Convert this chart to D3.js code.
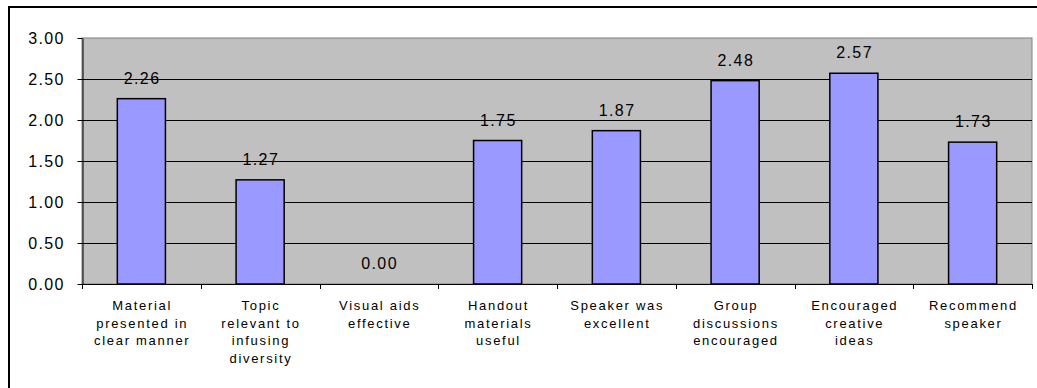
<!DOCTYPE html>
<html>
<head>
<meta charset="utf-8">
<script src="https://cdn.jsdelivr.net/npm/d3@7"></script>
<style>
  html, body { margin: 0; padding: 0; background: #fff; }
  svg { display: block; }
  text { font-family: "Liberation Sans", Arial, sans-serif; fill: #000; }
</style>
</head>
<body>
<svg id="chart" width="1037" height="388"></svg>
<script>
// Survey item labels (each entry is the wrapped lines of one category)
const categories = [
  ["Material", "presented in", "clear manner"],
  ["Topic", "relevant to", "infusing", "diversity"],
  ["Visual aids", "effective"],
  ["Handout", "materials", "useful"],
  ["Speaker was", "excellent"],
  ["Group", "discussions", "encouraged"],
  ["Encouraged", "creative", "ideas"],
  ["Recommend", "speaker"]
];
// Mean rating per item
const values = [2.26, 1.27, 0.00, 1.75, 1.87, 2.48, 2.57, 1.73];
// Y axis ticks
const yTicks = [0, 0.5, 1.0, 1.5, 2.0, 2.5, 3.0];

const svg = d3.select("#chart");
const W = 1037, H = 388;

// Outer chart frame
svg.append("rect")
  .attr("x", 9).attr("y", 7)
  .attr("width", W + 10).attr("height", H + 10)
  .attr("fill", "#fff").attr("stroke", "#000").attr("stroke-width", 2);

const plot = { left: 82, right: 1032, top: 38, bottom: 284 };

const x = d3.scaleBand()
  .domain(d3.range(categories.length))
  .range([plot.left, plot.right])
  .paddingInner(0.595).paddingOuter(0.2975);

const y = d3.scaleLinear().domain([0, 3]).range([plot.bottom, plot.top]);

const numSpacing = 1.4;
const catSpacing = 1.7;

// Plot area background
svg.append("rect")
  .attr("x", plot.left).attr("y", plot.top)
  .attr("width", plot.right - plot.left).attr("height", plot.bottom - plot.top)
  .attr("fill", "#C0C0C0").attr("stroke", "#808080").attr("stroke-width", 1);

// Horizontal gridlines
svg.append("g")
  .selectAll("line")
  .data(yTicks.filter(t => t > 0 && t < 3))
  .join("line")
  .attr("x1", plot.left).attr("x2", plot.right)
  .attr("y1", d => Math.round(y(d)) + 0.5).attr("y2", d => Math.round(y(d)) + 0.5)
  .attr("stroke", "#000").attr("stroke-width", 1);

// Y axis
const yAxis = svg.append("g")
  .attr("transform", `translate(${plot.left + 0.5},0)`)
  .call(d3.axisLeft(y).tickValues(yTicks).tickFormat(d3.format(".2f")).tickSize(5).tickSizeOuter(0).tickPadding(14));
yAxis.select(".domain").attr("stroke", "#000");
yAxis.selectAll(".tick line").attr("stroke", "#000");
yAxis.selectAll(".tick text")
  .attr("font-size", "16px")
  .attr("dx", numSpacing)
  .style("letter-spacing", numSpacing + "px")
  .attr("dy", "0.36em")
  .attr("fill", "#000");

// Bars
svg.append("g")
  .selectAll("rect")
  .data(values)
  .join("rect")
  .attr("x", (d, i) => x(i))
  .attr("width", x.bandwidth())
  .attr("y", d => y(d))
  .attr("height", d => y(0) - y(d))
  .attr("fill", "#9999FF")
  .attr("stroke", "#000")
  .attr("stroke-width", 1.5);

// Value labels
svg.append("g")
  .selectAll("text")
  .data(values)
  .join("text")
  .attr("x", (d, i) => x(i) + x.bandwidth() / 2 + numSpacing / 2)
  .attr("y", d => y(d) - 15)
  .attr("text-anchor", "middle")
  .attr("font-size", "16px")
  .style("letter-spacing", numSpacing + "px")
  .text(d => d.toFixed(2));

// X axis with boundary ticks
const xAxisG = svg.append("g");
xAxisG.append("line")
  .attr("x1", plot.left).attr("x2", plot.right)
  .attr("y1", plot.bottom + 0.5).attr("y2", plot.bottom + 0.5)
  .attr("stroke", "#000");
const step = (plot.right - plot.left) / categories.length;
xAxisG.selectAll("line.tick")
  .data(d3.range(categories.length + 1))
  .join("line")
  .attr("class", "tick")
  .attr("x1", i => Math.round(plot.left + i * step) + 0.5)
  .attr("x2", i => Math.round(plot.left + i * step) + 0.5)
  .attr("y1", plot.bottom).attr("y2", plot.bottom + 5)
  .attr("stroke", "#000");

// Category labels
const catG = svg.append("g")
  .selectAll("text")
  .data(categories)
  .join("text")
  .attr("x", (d, i) => x(i) + x.bandwidth() / 2 + catSpacing / 2)
  .attr("y", 310)
  .attr("text-anchor", "middle")
  .attr("font-size", "13px")
  .style("letter-spacing", catSpacing + "px");
catG.selectAll("tspan")
  .data(d => d)
  .join("tspan")
  .attr("x", function () { return d3.select(this.parentNode).attr("x"); })
  .attr("dy", (d, i) => i === 0 ? 0 : 17.6)
  .text(d => d);
</script>
</body>
</html>
